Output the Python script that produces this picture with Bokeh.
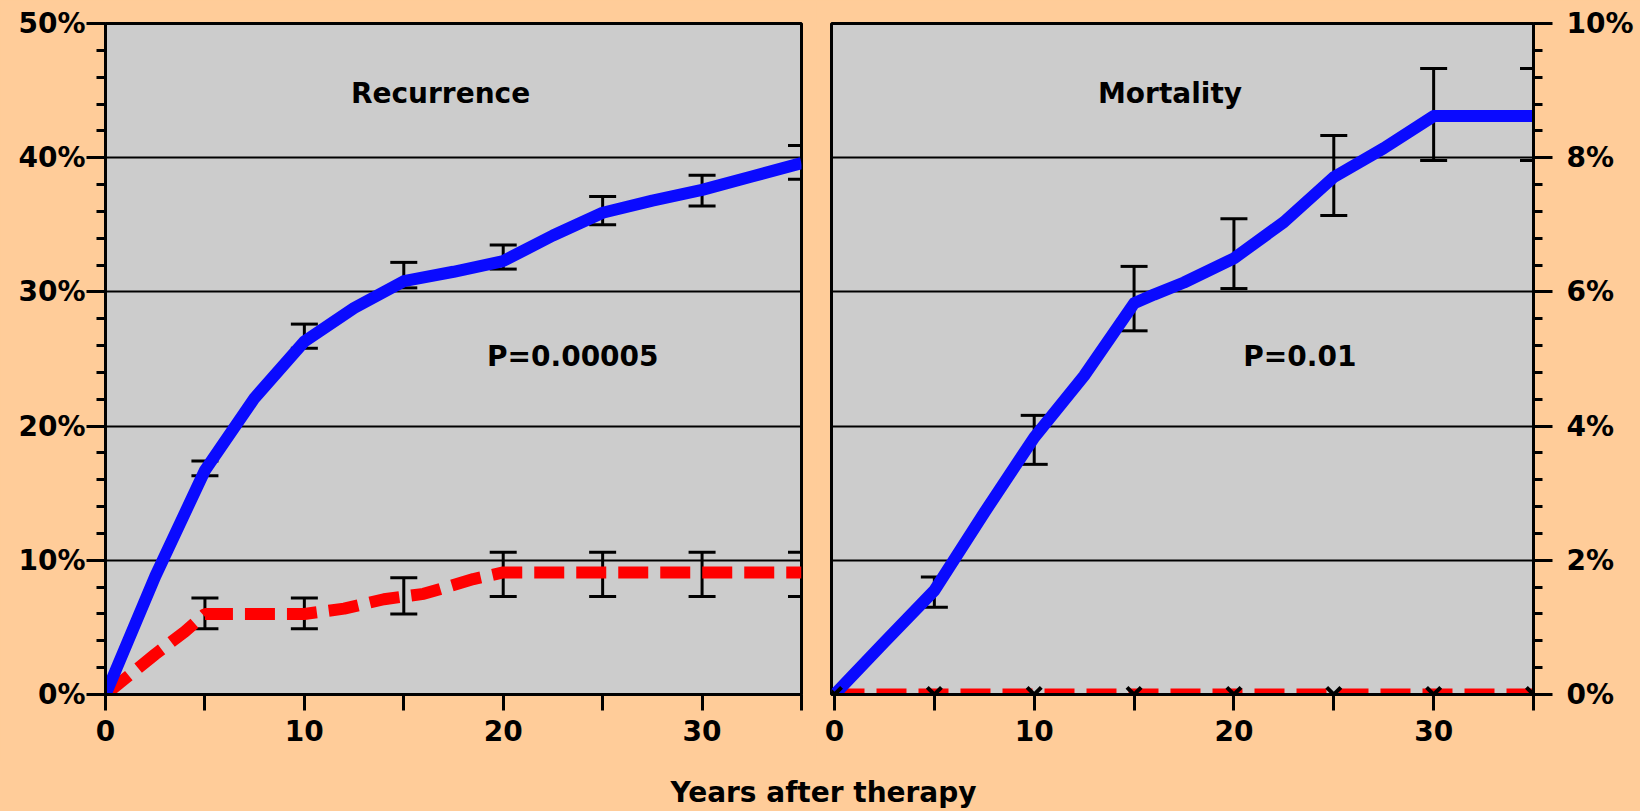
from bokeh.plotting import figure
from bokeh.models import (Range1d, FixedTicker, PrintfTickFormatter, Whisker, TeeHead,
                          ColumnDataSource, Label)
from bokeh.layouts import column, row
from bokeh.embed import file_html
from bokeh.resources import INLINE

# ---------------- data ----------------
years_err = [0, 5, 10, 15, 20, 25, 30, 35]

# Recurrence, blue solid curve
rec_a_x = [0, 2.5, 5, 7.5, 10, 12.5, 15, 17.5, 20, 22.5, 25, 27.5, 30, 32.5, 35]
rec_a_y = [0, 8.8, 16.7, 22.1, 26.3, 28.8, 30.8, 31.5, 32.3, 34.2, 35.9, 36.8, 37.6, 38.6, 39.6]
rec_a_lo = [0, 16.3, 25.8, 30.3, 31.7, 35.0, 36.4, 38.4]
rec_a_hi = [0, 17.4, 27.6, 32.2, 33.5, 37.1, 38.7, 40.9]

# Recurrence, red dashed curve
rec_b_x = [0, 1, 2.5, 4, 5, 10, 12, 14, 16, 18.5, 20, 25, 30, 35]
rec_b_y = [0, 1.2, 3.0, 4.7, 6.0, 6.0, 6.4, 7.1, 7.5, 8.6, 9.1, 9.1, 9.1, 9.1]
rec_b_lo = [0, 4.9, 4.9, 6.0, 7.3, 7.3, 7.3, 7.3]
rec_b_hi = [0, 7.2, 7.2, 8.7, 10.6, 10.6, 10.6, 10.6]

# Mortality, blue solid curve
mort_a_x = [0, 2.5, 5, 7.5, 10, 12.5, 15, 16, 17.5, 20, 22.5, 25, 27.5, 30, 35]
mort_a_y = [0, 0.78, 1.55, 2.71, 3.83, 4.75, 5.83, 5.96, 6.14, 6.50, 7.04, 7.71, 8.14, 8.62, 8.62]
mort_a_lo = [0, 1.30, 3.43, 5.42, 6.05, 7.14, 7.96, 7.96]
mort_a_hi = [0, 1.75, 4.16, 6.38, 7.09, 8.33, 9.33, 9.33]

# Mortality, red dashed curve
mort_b_x = [0, 5, 10, 15, 20, 25, 30, 35]
mort_b_y = [0, 0, 0, 0, 0, 0, 0, 0]

rec_ticks = [0, 10, 20, 30, 40, 50]
rec_minor = [2, 4, 6, 8, 12, 14, 16, 18, 22, 24, 26, 28, 32, 34, 36, 38, 42, 44, 46, 48]
mort_ticks = [0, 2, 4, 6, 8, 10]
mort_minor = [0.4, 0.8, 1.2, 1.6, 2.4, 2.8, 3.2, 3.6, 4.4, 4.8, 5.2, 5.6,
              6.4, 6.8, 7.2, 7.6, 8.4, 8.8, 9.2, 9.6]
x_ticks = [0, 10, 20, 30]
x_minor = [5, 15, 25, 35]

# ---------------- styling ----------------
PEACH = "#FFCC99"
GREY = "#CCCCCC"
BLUE = "#0A0AFF"
RED = "#FF0000"
FONT = "DejaVu Sans"
FS = "28px"


def make_panel(width, bl, br, x_start, y_max, yt, ym, yloc):
    p = figure(width=width, height=760, x_range=Range1d(x_start, 35), y_range=Range1d(0, y_max),
               output_backend="svg", toolbar_location=None, y_axis_location=yloc,
               min_border_left=bl, min_border_right=br, min_border_top=23, min_border_bottom=66,
               background_fill_color=GREY, border_fill_color=PEACH,
               outline_line_color="black", outline_line_width=3)
    p.xgrid.visible = False
    p.ygrid.ticker = FixedTicker(ticks=yt)
    p.ygrid.grid_line_color = "black"
    p.ygrid.grid_line_width = 2

    xa = p.xaxis[0]
    xa.ticker = FixedTicker(ticks=x_ticks, minor_ticks=x_minor)
    xa.major_tick_out = 16
    xa.major_tick_in = 0
    xa.minor_tick_out = 16
    xa.minor_tick_in = 0
    xa.major_tick_line_width = 3
    xa.minor_tick_line_width = 3
    xa.axis_line_width = 3
    xa.major_label_standoff = 9
    xa.major_label_text_font = FONT
    xa.major_label_text_font_style = "bold"
    xa.major_label_text_font_size = FS
    xa.major_label_text_color = "black"

    ya = p.yaxis[0]
    ya.ticker = FixedTicker(ticks=yt, minor_ticks=ym)
    ya.formatter = PrintfTickFormatter(format="%d%%")
    ya.major_tick_out = 19
    ya.major_tick_in = 0
    ya.minor_tick_out = 9
    ya.minor_tick_in = 0
    ya.major_tick_line_width = 3
    ya.minor_tick_line_width = 3
    ya.axis_line_width = 3
    ya.major_label_text_font = FONT
    ya.major_label_text_font_style = "bold"
    ya.major_label_text_font_size = FS
    ya.major_label_text_color = "black"
    return p


def add_err(p, x, lo, hi):
    src = ColumnDataSource(dict(base=x, lower=lo, upper=hi))
    w = Whisker(source=src, base="base", lower="lower", upper="upper",
                line_color="black", line_width=3,
                upper_head=TeeHead(size=27, line_width=3, line_color="black"),
                lower_head=TeeHead(size=27, line_width=3, line_color="black"))
    p.add_layout(w)


def add_text(p, x, y, txt):
    p.add_layout(Label(x=x, y=y, text=txt, text_align="center", text_baseline="alphabetic",
                       text_font=FONT, text_font_style="bold", text_font_size=FS,
                       text_color="black"))


# Left panel: Recurrence
p1 = make_panel(816, 105, 15, 0, 50, rec_ticks, rec_minor, "left")
p1.yaxis[0].major_label_standoff = 1
p1.line(rec_b_x, rec_b_y, line_width=12, color=RED, line_dash="30 12")
p1.line(rec_a_x, rec_a_y, line_width=12, color=BLUE, line_join="round")
add_err(p1, years_err, rec_b_lo, rec_b_hi)
add_err(p1, years_err, rec_a_lo, rec_a_hi)
add_text(p1, 16.85, 44.75, "Recurrence")
add_text(p1, 23.5, 25.2, "P=0.00005")

# Right panel: Mortality
p2 = make_panel(824, 15, 107, -0.15, 10, mort_ticks, mort_minor, "right")
p2.yaxis[0].major_label_standoff = 14
p2.line(mort_b_x, mort_b_y, line_width=12, color=RED, line_dash="30 12")
p2.line(mort_a_x, mort_a_y, line_width=12, color=BLUE, line_join="round")
add_err(p2, years_err, mort_a_lo, mort_a_hi)
add_err(p2, years_err, mort_b_y, mort_b_y)
p2.scatter(mort_b_x, mort_b_y, marker="x", size=20, line_width=4, line_color="black")
add_text(p2, 16.8, 8.96, "Mortality")
add_text(p2, 23.3, 5.04, "P=0.01")

# Shared x-axis title strip
p3 = figure(width=1640, height=51, x_range=Range1d(0, 1640), y_range=Range1d(0, 51),
            output_backend="svg", toolbar_location=None,
            x_axis_location=None, y_axis_location=None, min_border=0,
            background_fill_color=PEACH, border_fill_color=PEACH, outline_line_color=None)
p3.grid.visible = False
p3.add_layout(Label(x=823, y=19, text="Years after therapy", text_align="center",
                    text_baseline="alphabetic", text_font=FONT, text_font_style="bold",
                    text_font_size=FS, text_color="black"))

layout = column(row(p1, p2, spacing=0), p3, spacing=0, background=PEACH)
open("out.html", "w").write(file_html(layout, INLINE))
